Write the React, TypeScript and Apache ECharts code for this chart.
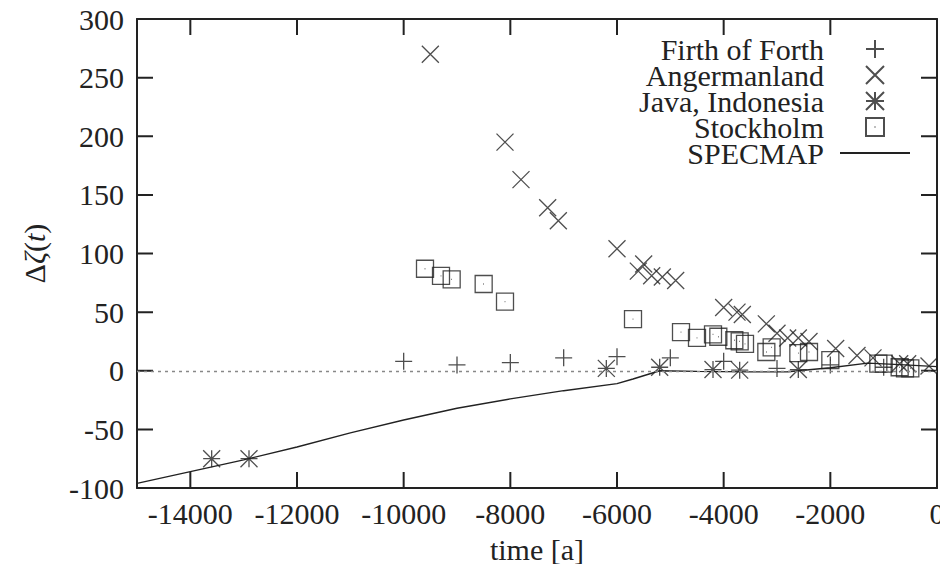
import React, { useEffect, useRef } from "react";
import * as echarts from "echarts";

const xTicks = [-14000, -12000, -10000, -8000, -6000, -4000, -2000, 0];
const yTicks = [-50, 0, 50, 100, 150, 200, 250];

const firthX = [-10000, -9000, -8000, -7000, -6000, -5000, -4000, -3000, -2000, -1000];
const firthY = [8, 5, 7, 11, 12, 11, 8, 2, 5, 3];

const angerX = [-9500, -8100, -7800, -7300, -7100, -6000, -5600, -5500, -5350, -5150, -4900, -4000, -3750, -3650, -3200, -3000, -2800, -2600, -2400, -1900, -1500, -1200, -700, -550, -150];
const angerY = [270, 195, 163, 139, 128, 104, 85, 91, 81, 80, 77, 54, 50, 48, 40, 32, 28, 28, 25, 19, 13, 11, 6, 6, 4];

const javaX = [-13600, -12900, -6200, -5200, -4200, -3700, -2600];
const javaY = [-75, -75, 2, 3, 1, 0.5, 1];

const stockX = [-9600, -9300, -9100, -8500, -8100, -5700, -4800, -4500, -4200, -4100, -3800, -3700, -3600, -3200, -3100, -2600, -2400, -2000, -1100, -1000, -700, -600, -500];
const stockY = [87, 81, 78, 74, 59, 44, 33, 28, 31, 29, 26, 25, 23, 16, 20, 15, 16, 9, 6, 6, 3, 2, 2];

const specX = [-15000, -14000, -13000, -12000, -11000, -10000, -9000, -8000, -7000, -6000, -5700, -5200, -4500, -3500, -2800, -2000, -1300, -600, 0];
const specY = [-96, -86, -76, -65, -53, -42, -32, -24, -17, -11, -7, 0, -0.5, -1, -0.8, 2.5, 6.5, 5, 3.5];

const X_MIN = -15000;
const X_MAX = 0;
const Y_MIN = -100;
const Y_MAX = 300;

const FONT = "Liberation Serif";
const INK = "#222";

const SYM_PLUS = "path://M0,5L10,5M5,0L5,10";
const SYM_CROSS = "path://M0,0L10,10M0,10L10,0";
const SYM_STAR = "path://M0,5L10,5M5,0L5,10M0,0L10,10M0,10L10,0";
const SYM_BOX = "path://M0,0L10,0L10,10L0,10ZM4.8,5L5.2,5";

const zip = (xs: number[], ys: number[]) => xs.map((x, i) => [x, ys[i]]);

// inward tick length (16 px) expressed in axis units of the 800x469 px plot
const TICK_X = ((X_MAX - X_MIN) * 16) / 800;
const TICK_Y = ((Y_MAX - Y_MIN) * 16) / 469;

const GAP = ["-", "-"];
const tickPath: any[] = [];
xTicks.forEach((v) => tickPath.push([v, Y_MIN], [v, Y_MIN + TICK_Y], GAP));
xTicks.forEach((v) => tickPath.push([v, Y_MAX], [v, Y_MAX - TICK_Y], GAP));
yTicks.forEach((v) => tickPath.push([X_MIN, v], [X_MIN + TICK_X, v], GAP));
yTicks.forEach((v) => tickPath.push([X_MAX, v], [X_MAX - TICK_X, v], GAP));

const scatter = (name: string, xs: number[], ys: number[], symbol: string) => ({
  name,
  type: "scatter",
  data: zip(xs, ys),
  symbol,
  symbolSize: 17,
  itemStyle: { color: "none", borderColor: INK, borderWidth: 1.3 },
  emphasis: { disabled: true },
});

export default function App() {
  const ref = useRef<HTMLDivElement>(null);
  useEffect(() => {
    if (!ref.current) return;
    const chart = echarts.init(ref.current, null, { renderer: "svg" });
    const mkLine = () => ({ show: true, onZero: false, lineStyle: { color: INK, width: 2 } });
    chart.setOption({
      animation: false,
      backgroundColor: "#fff",
      grid: { left: 137, right: 11, top: 19, bottom: 84 },
      legend: {
        orient: "vertical",
        align: "right",
        right: 37,
        top: 34,
        padding: 0,
        itemWidth: 70,
        itemHeight: 18,
        itemGap: -4,
        selectedMode: false,
        textStyle: { fontFamily: FONT, fontSize: 30, color: INK, padding: [0, 11, 0, 0] },
        data: ["Firth of Forth", "Angermanland", "Java, Indonesia", "Stockholm", "SPECMAP"],
      },
      xAxis: [
        {
          type: "value",
          min: X_MIN,
          max: X_MAX,
          position: "bottom",
          axisLine: mkLine(),
          axisTick: { show: false },
          axisLabel: {
            show: true,
            customValues: xTicks,
            formatter: (v: number) => String(v),
            fontFamily: FONT,
            fontSize: 30,
            color: INK,
            margin: 10,
          },
          splitLine: { show: false },
          name: "time [a]",
          nameLocation: "middle",
          nameGap: 46,
          nameTextStyle: { fontFamily: FONT, fontSize: 30, color: INK },
        },
        {
          type: "value",
          min: X_MIN,
          max: X_MAX,
          position: "top",
          axisLine: mkLine(),
          axisTick: { show: false },
          axisLabel: { show: false },
          splitLine: { show: false },
        },
      ],
      yAxis: [
        {
          type: "value",
          min: Y_MIN,
          max: Y_MAX,
          interval: 50,
          position: "left",
          axisLine: mkLine(),
          axisTick: { show: false },
          axisLabel: { show: true, fontFamily: FONT, fontSize: 30, color: INK, margin: 13 },
          splitLine: { show: false },
          name: "{a|Δ}{b|ζ}{a|(}{b|t}{a|)}",
          nameLocation: "middle",
          nameRotate: 90,
          nameGap: 88,
          nameTextStyle: {
            rich: {
              a: { fontFamily: FONT, fontSize: 30, color: INK },
              b: { fontFamily: FONT, fontSize: 30, color: INK, fontStyle: "italic" },
            },
          },
        },
        {
          type: "value",
          min: Y_MIN,
          max: Y_MAX,
          interval: 50,
          position: "right",
          axisLine: mkLine(),
          axisTick: { show: false },
          axisLabel: { show: false },
          splitLine: { show: false },
        },
      ],
      series: [
        scatter("Firth of Forth", firthX, firthY, SYM_PLUS),
        scatter("Angermanland", angerX, angerY, SYM_CROSS),
        scatter("Java, Indonesia", javaX, javaY, SYM_STAR),
        scatter("Stockholm", stockX, stockY, SYM_BOX),
        {
          name: "SPECMAP",
          type: "line",
          data: zip(specX, specY),
          symbol: "none",
          lineStyle: { color: INK, width: 1.4 },
          itemStyle: { color: "transparent" },
          emphasis: { disabled: true },
          markLine: {
            silent: true,
            symbol: ["none", "none"],
            label: { show: false },
            lineStyle: { color: "#888", width: 1.3, type: [3, 4] },
            data: [{ yAxis: 0 }],
          },
        },
        {
          name: "frame ticks",
          type: "line",
          data: tickPath,
          symbol: "none",
          connectNulls: false,
          clip: false,
          silent: true,
          lineStyle: { color: INK, width: 2 },
          itemStyle: { color: INK },
          emphasis: { disabled: true },
          tooltip: { show: false },
        },
      ],
    });
    return () => chart.dispose();
  }, []);
  return <div ref={ref} style={{ width: 948, height: 572, margin: -8 }} />;
}
